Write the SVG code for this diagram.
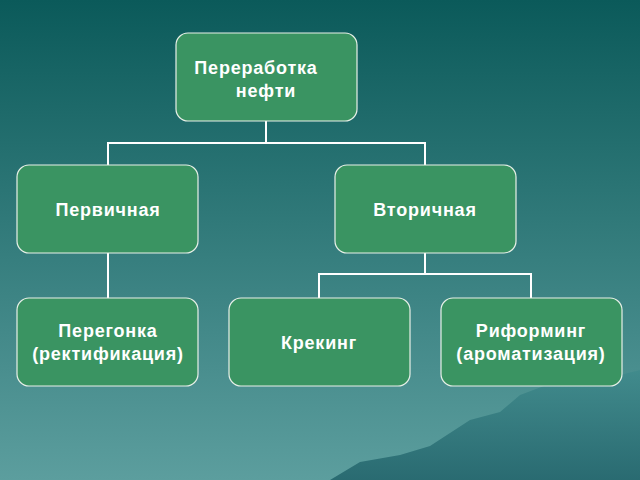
<svg xmlns="http://www.w3.org/2000/svg" width="640" height="480" viewBox="0 0 640 480">
<defs>
<linearGradient id="bg" x1="0" y1="0" x2="0" y2="1">
<stop offset="0" stop-color="#0b5a5a"/>
<stop offset="1" stop-color="#5c9e9e"/>
</linearGradient>
<linearGradient id="mt" x1="0" y1="0" x2="0" y2="1">
<stop offset="0" stop-color="#3f8a8c"/>
<stop offset="1" stop-color="#1d5e66"/>
</linearGradient>
</defs>
<style>
.n{fill:#3a9462;stroke:#e8f0e8;stroke-width:1.2}
.t{font-family:"Liberation Sans",Arial,sans-serif;font-size:18px;font-weight:bold;fill:#fff;text-anchor:middle;letter-spacing:0.8px}
.c{fill:none;stroke:#ffffff;stroke-width:2}
</style>
<rect width="640" height="480" fill="url(#bg)"/>
<path d="M330 480 L360 462 L400 455 L430 446 L470 420 L500 412 L520 395 L560 380 L590 372 L620 375 L640 370 L640 480 Z" fill="url(#mt)" opacity="0.8"/>
<g id="connectors">
<path class="c" d="M266 121 V143 M108 165 V143 H425 V165"/>
<path class="c" d="M108 253 V298"/>
<path class="c" d="M425 253 V274 M319 298 V274 H531 V298"/>
</g>
<g id="n1"><rect class="n" x="176" y="33" width="181" height="88" rx="12"/><text class="t" x="256" y="74">Переработка</text><text class="t" x="266" y="97">нефти</text></g>
<g id="n2"><rect class="n" x="17" y="165" width="181" height="88" rx="12"/><text class="t" x="108" y="216">Первичная</text></g>
<g id="n3"><rect class="n" x="335" y="165" width="181" height="88" rx="12"/><text class="t" x="425" y="216">Вторичная</text></g>
<g id="n4"><rect class="n" x="17" y="298" width="181" height="88" rx="12"/><text class="t" x="108" y="337">Перегонка</text><text class="t" x="108" y="360">(ректификация)</text></g>
<g id="n5"><rect class="n" x="229" y="298" width="181" height="88" rx="12"/><text class="t" x="319" y="349">Крекинг</text></g>
<g id="n6"><rect class="n" x="441" y="298" width="181" height="88" rx="12"/><text class="t" x="531" y="337">Риформинг</text><text class="t" x="531" y="360">(ароматизация)</text></g>
</svg>
